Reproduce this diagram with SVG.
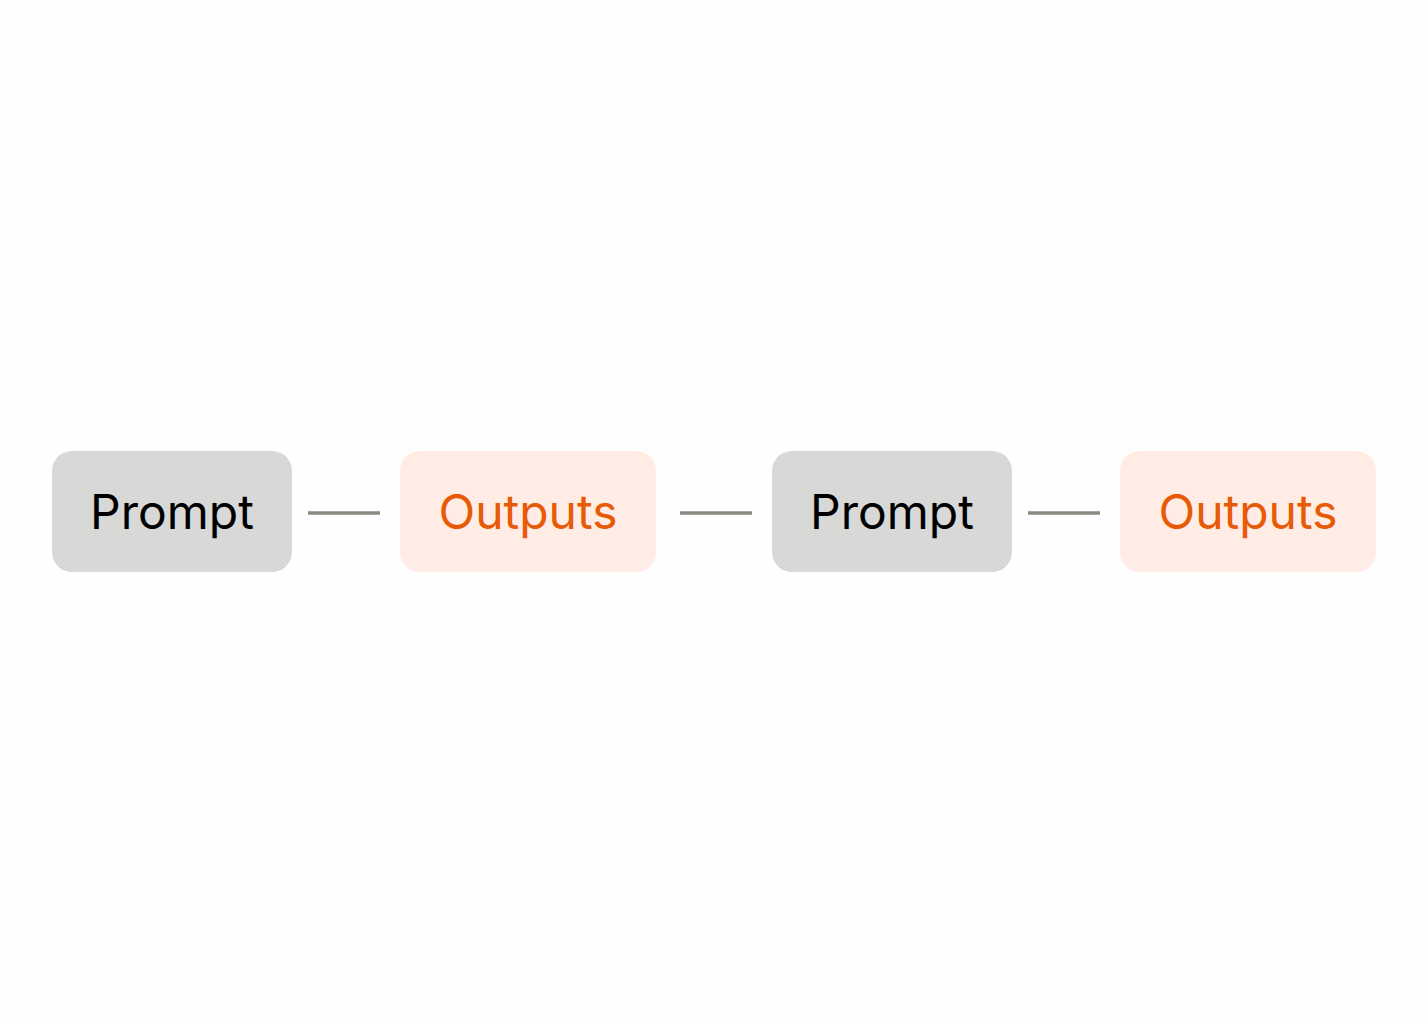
<svg xmlns="http://www.w3.org/2000/svg" width="1428" height="1024" viewBox="0 0 1428 1024">
<style>
.p{fill:#d8d8d6}
.o{fill:#feece5}
.t{font-family:Inter,"Liberation Sans",sans-serif;font-size:48px;text-anchor:middle}
.tp{fill:#000}
.to{fill:#e85a05}
.c{stroke:#8a8a82;stroke-width:3.5;fill:none}
</style>
<rect width="1428" height="1024" fill="#fffefe"/>
<g id="connectors">
<line class="c" x1="308" y1="513" x2="380" y2="513"/>
<line class="c" x1="680" y1="513" x2="752" y2="513"/>
<line class="c" x1="1028" y1="513" x2="1100" y2="513"/>
</g>
<g id="prompt1"><rect class="p" x="52" y="451" width="240" height="121" rx="20"/><text class="t tp" x="172" y="529">Prompt</text></g>
<g id="outputs1"><rect class="o" x="400" y="451" width="256" height="121" rx="20"/><text class="t to" x="528" y="529">Outputs</text></g>
<g id="prompt2"><rect class="p" x="772" y="451" width="240" height="121" rx="20"/><text class="t tp" x="892" y="529">Prompt</text></g>
<g id="outputs2"><rect class="o" x="1120" y="451" width="256" height="121" rx="20"/><text class="t to" x="1248" y="529">Outputs</text></g>
</svg>
